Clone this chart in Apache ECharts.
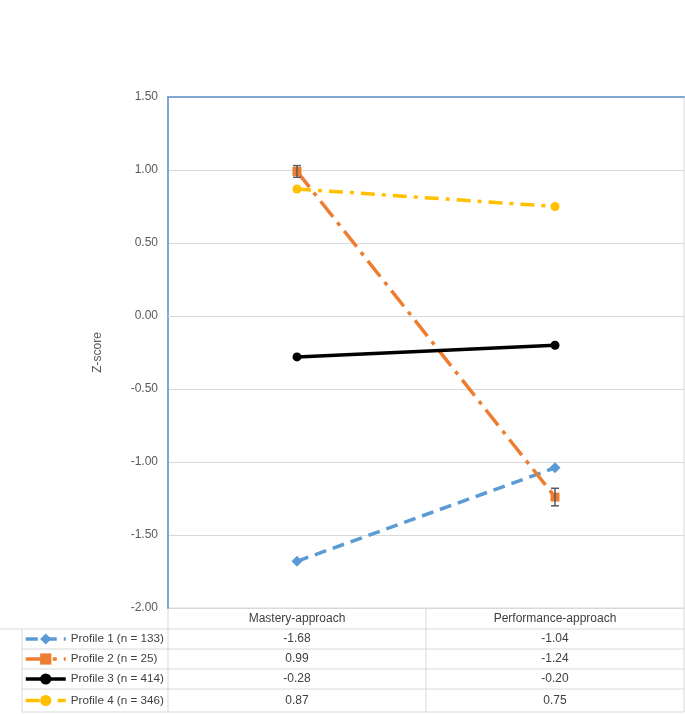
<!DOCTYPE html>
<html><head><meta charset="utf-8">
<script src="https://cdn.jsdelivr.net/npm/echarts@6/dist/echarts.min.js"></script>
<style>html,body{margin:0;padding:0;background:#fff}#c{width:685px;height:714px}</style>
</head><body><div id="c"></div>
<script>
const categories = ['Mastery-approach', 'Performance-approach'];
const seriesNames = ['Profile 1 (n = 133)', 'Profile 2 (n = 25)', 'Profile 3 (n = 414)', 'Profile 4 (n = 346)'];
const profile1 = [-1.68, -1.04];
const profile2 = [0.99, -1.24];
const profile3 = [-0.28, -0.20];
const profile4 = [0.87, 0.75];
const profile2ErrLow = [0.95, -1.30];
const profile2ErrHigh = [1.03, -1.18];
const yTicks = { min: -2, max: 1.5, interval: 0.5 };

const FONT = 'Liberation Sans';
const TXT = '#404040';
const GRIDC = '#D9D9D9';
const BLUE = '#7FA8D1';
const L = 168, R = 684, T = 97, B = 608;
const rowY = [608, 629, 649, 669, 689, 712];
const tableLeft = 22;

const chart = echarts.init(document.getElementById('c'), null, { renderer: 'canvas' });

const allVals = [profile1, profile2, profile3, profile4];
const graphics = [];
const line = (x1, y1, x2, y2) => graphics.push({ type: 'line', silent: true, shape: { x1, y1, x2, y2 }, style: { stroke: GRIDC, lineWidth: 1 } });
line(L, rowY[0], R, rowY[0]);
for (let i = 1; i < rowY.length; i++) line(i === 1 ? 0 : tableLeft, rowY[i], R, rowY[i]);
line(tableLeft, rowY[1], tableLeft, rowY[5]);
const colW = (R - L) / categories.length;
for (let c = 0; c <= categories.length; c++) line(L + c * colW, c === categories.length ? T : rowY[0], L + c * colW, rowY[5]);
categories.forEach((cat, c) => {
  const cx = L + (c + 0.5) * colW;
  graphics.push({ type: 'text', silent: true, x: cx, y: (rowY[0] + rowY[1]) / 2, style: { text: cat, fill: TXT, font: '12px "' + FONT + '"', align: 'center', verticalAlign: 'middle' } });
  allVals.forEach((arr, r) => {
    graphics.push({ type: 'text', silent: true, x: cx, y: (rowY[r + 1] + rowY[r + 2]) / 2, style: { text: arr[c].toFixed(2), fill: TXT, font: '12px "' + FONT + '"', align: 'center', verticalAlign: 'middle' } });
  });
});

const legends = seriesNames.map((n, i) => ({
  orient: 'vertical', left: tableLeft + 2, top: (rowY[i + 1] + rowY[i + 2]) / 2 - 6, itemGap: 0, itemWidth: 40, itemHeight: 14, padding: 0,
  textStyle: { color: TXT, fontSize: 11.7, fontFamily: FONT, padding: [0, 0, 0, 0] },
  lineStyle: { width: 3.5 },
  data: [n]
}));

const option = {
  backgroundColor: '#fff',
  animation: false,
  grid: { left: L, right: 685 - R, top: T, bottom: 714 - B, containLabel: false },
  xAxis: [
    { type: 'category', data: categories, boundaryGap: true, position: 'bottom',
      axisLine: { show: true, lineStyle: { color: GRIDC, width: 1 } }, axisTick: { show: false }, axisLabel: { show: false } },
    { type: 'category', data: categories, boundaryGap: true, position: 'top',
      axisLine: { show: true, lineStyle: { color: BLUE, width: 2 } }, axisTick: { show: false }, axisLabel: { show: false } }
  ],
  yAxis: {
    type: 'value', min: yTicks.min, max: yTicks.max, interval: yTicks.interval,
    name: 'Z-score', nameLocation: 'middle', nameGap: 64,
    nameTextStyle: { color: '#595959', fontSize: 12, fontFamily: FONT },
    axisLine: { show: true, lineStyle: { color: BLUE, width: 2 } }, axisTick: { show: false },
    axisLabel: { color: '#595959', fontSize: 12, fontFamily: FONT, margin: 10, formatter: v => v.toFixed(2) },
    splitLine: { show: true, lineStyle: { color: GRIDC, width: 1 } }
  },
  legend: legends,
  graphic: graphics,
  series: [
    { name: seriesNames[0], type: 'line', data: profile1, symbol: 'diamond', symbolSize: 11,
      lineStyle: { color: '#5B9BD5', width: 3.5, type: [12, 7] }, itemStyle: { color: '#5B9BD5' }, z: 3 },
    { name: seriesNames[1], type: 'line', data: profile2, symbol: 'rect', symbolSize: 9,
      lineStyle: { color: '#ED7D31', width: 3.5, type: [20, 7, 4, 7] }, itemStyle: { color: '#ED7D31' }, z: 3 },
    { name: seriesNames[2], type: 'line', data: profile3, symbol: 'circle', symbolSize: 9,
      lineStyle: { color: '#000000', width: 3.5 }, itemStyle: { color: '#000000' }, z: 3 },
    { name: seriesNames[3], type: 'line', data: profile4, symbol: 'circle', symbolSize: 9,
      lineStyle: { color: '#FFC000', width: 3.5, type: [14, 7, 4, 7] }, itemStyle: { color: '#FFC000' }, z: 3 },
    { name: 'err', type: 'custom', z: 4,
      data: categories.map((c, i) => [i, profile2ErrLow[i], profile2ErrHigh[i]]),
      renderItem: (params, api) => {
        const lo = api.coord([api.value(0), api.value(1)]);
        const hi = api.coord([api.value(0), api.value(2)]);
        const w = 4;
        const st = { stroke: '#595959', lineWidth: 1.5 };
        return { type: 'group', children: [
          { type: 'line', shape: { x1: hi[0], y1: hi[1], x2: lo[0], y2: lo[1] }, style: st },
          { type: 'line', shape: { x1: hi[0] - w, y1: hi[1], x2: hi[0] + w, y2: hi[1] }, style: st },
          { type: 'line', shape: { x1: lo[0] - w, y1: lo[1], x2: lo[0] + w, y2: lo[1] }, style: st }
        ] };
      }
    }
  ]
};
chart.setOption(option);
</script></body></html>
